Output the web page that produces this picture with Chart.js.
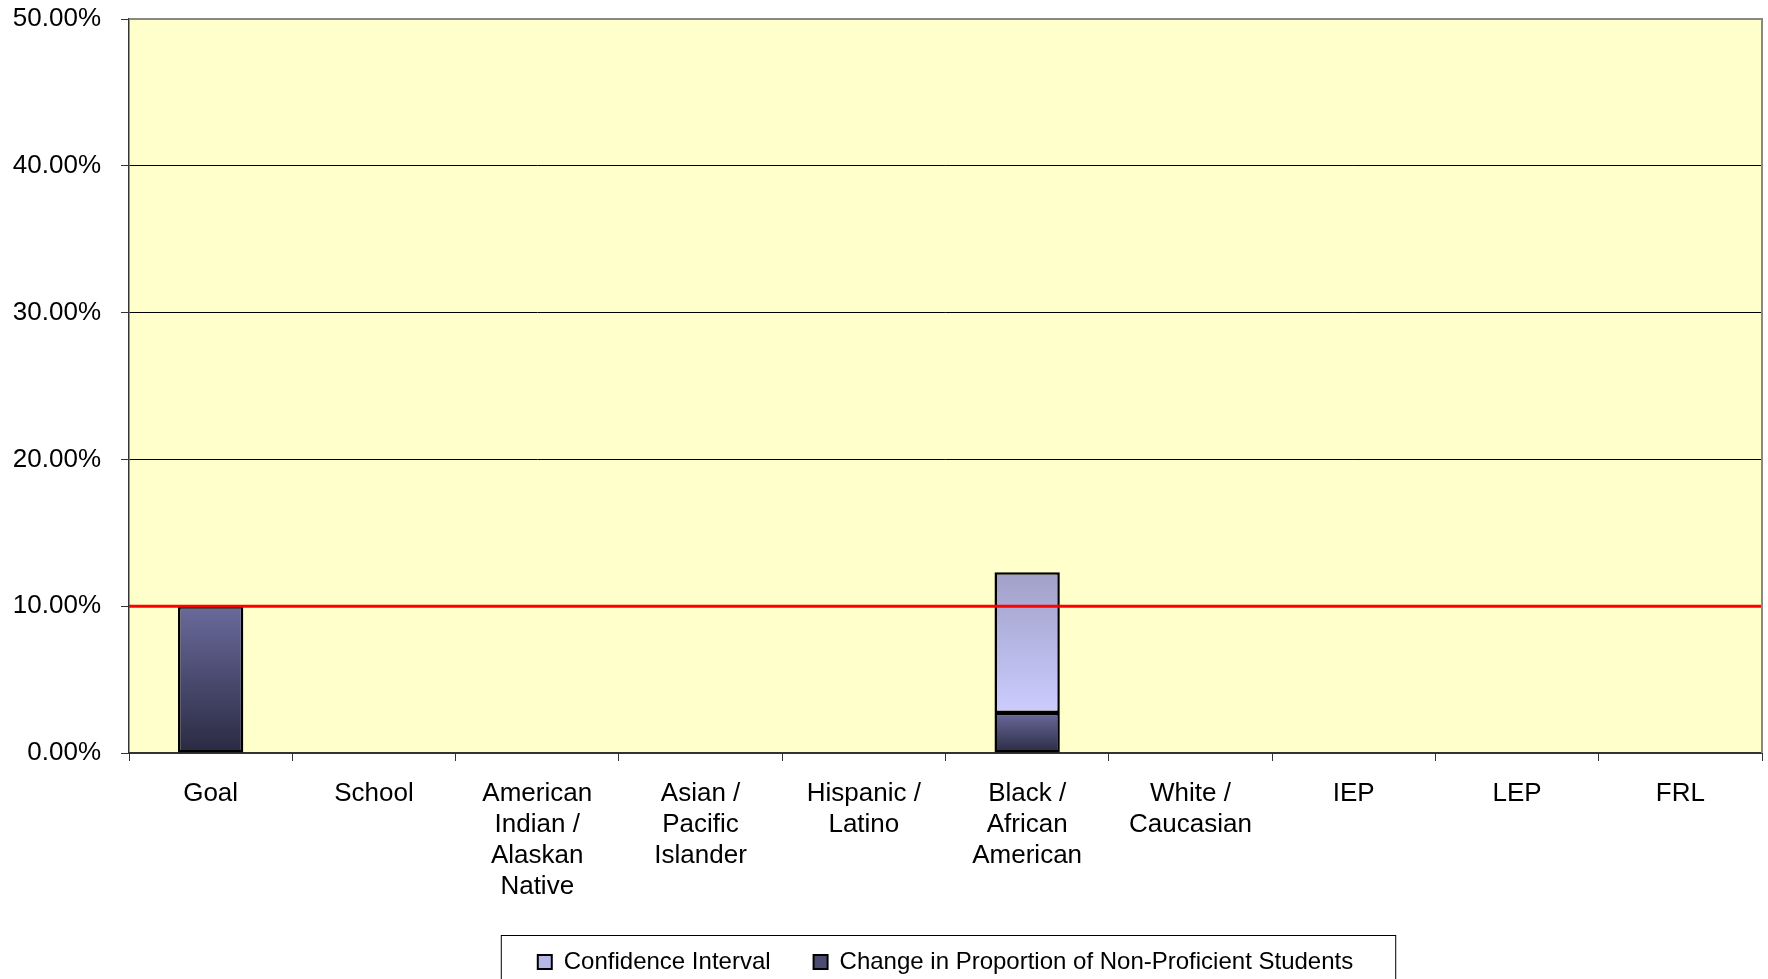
<!DOCTYPE html>
<html>
<head>
<meta charset="utf-8">
<script src="https://cdn.jsdelivr.net/npm/chart.js@4.4.1/dist/chart.umd.min.js"></script>
<style>
  body { margin: 0; background: #fff; }
  canvas { display: block; }
</style>
</head>
<body>
<canvas id="myChart" width="1768" height="979"></canvas>
<script>
const categories = [
  "Goal",
  "School",
  ["American", "Indian /", "Alaskan", "Native"],
  ["Asian /", "Pacific", "Islander"],
  ["Hispanic /", "Latino"],
  ["Black /", "African", "American"],
  ["White /", "Caucasian"],
  "IEP",
  "LEP",
  "FRL",
];
const changeValues = [10, null, null, null, null, 2.73, null, null, null, null];
const confidenceValues = [null, null, null, null, null, 9.59, null, null, null, null];
const goalLine = [10, 10];

const ctx = document.getElementById("myChart").getContext("2d");
const FONT = "'Liberation Sans', Arial, sans-serif";
const legendColors = ["#4c4c72", "#b8b8e8"];

/**
 * Vertical gradient spanning one bar segment
 */
function barGradient(c, values, bases, topColor, bottomColor, solid) {
  if (c.type !== "data") return solid;
  const y = c.chart.scales.y;
  const v = values[c.dataIndex];
  if (!y || v == null) return solid;
  const base = bases ? bases[c.dataIndex] || 0 : 0;
  const yTop = y.getPixelForValue(base + v);
  const yBot = y.getPixelForValue(base);
  if (!isFinite(yTop) || !isFinite(yBot) || yTop === yBot) return solid;
  const g = c.chart.ctx.createLinearGradient(0, yTop, 0, yBot);
  g.addColorStop(0, topColor);
  g.addColorStop(1, bottomColor);
  return g;
}

const plotBackground = {
  id: "plotBackground",
  beforeDraw(chart) {
    const { ctx, chartArea: a } = chart;
    ctx.save();
    ctx.fillStyle = "#ffffcc";
    ctx.fillRect(a.left, a.top, a.width, a.height);
    ctx.restore();
  },
  afterDraw(chart) {
    const { ctx, chartArea: a } = chart;
    ctx.save();
    ctx.strokeStyle = "#888";
    ctx.lineWidth = 2;
    ctx.beginPath();
    ctx.moveTo(a.left, a.top);
    ctx.lineTo(a.right, a.top);
    ctx.lineTo(a.right, a.bottom);
    ctx.stroke();
    // legend frame
    const lg = chart.legend;
    const boxes = lg.legendHitBoxes || [];
    if (boxes.length) {
      const left = Math.min(...boxes.map((b) => b.left)) - 37;
      const right = Math.max(...boxes.map((b) => b.left + b.width)) + 42;
      ctx.strokeStyle = "#000";
      ctx.lineWidth = 1;
      ctx.strokeRect(left + 0.5, lg.top - 12 + 0.5, right - left, chart.height);
    }
    ctx.restore();
  },
};

new Chart(ctx, {
  type: "bar",
  data: {
    labels: categories,
    datasets: [
      {
        label: "Change in Proportion of Non-Proficient Students",
        data: changeValues,
        backgroundColor: (c) => barGradient(c, changeValues, null, "#6a6a9c", "#2a2a42", legendColors[0]),
        borderColor: "#000",
        borderWidth: 2.5,
        borderSkipped: false,
        grouped: false,
        barPercentage: 0.4,
        categoryPercentage: 1,
      },
      {
        label: "Confidence Interval",
        data: confidenceValues,
        backgroundColor: (c) => barGradient(c, confidenceValues, changeValues, "#a0a0c8", "#ccccff", legendColors[1]),
        borderColor: "#000",
        borderWidth: 2.5,
        borderSkipped: false,
        grouped: false,
        barPercentage: 0.4,
        categoryPercentage: 1,
      },
      {
        type: "line",
        label: "Goal",
        data: goalLine.map((v, i) => ({ x: i, y: v })),
        xAxisID: "x2",
        borderColor: "#ff0000",
        borderWidth: 3,
        pointRadius: 0,
        fill: false,
        order: -1,
      },
    ],
  },
  options: {
    responsive: false,
    animation: false,
    devicePixelRatio: 1,
    layout: { padding: { top: 19, right: 6, left: 0, bottom: -5 } },
    plugins: {
      tooltip: { enabled: false },
      legend: {
        position: "bottom",
        fullSize: false,
        reverse: true,
        labels: {
          color: "#000",
          font: { family: FONT, size: 24 },
          boxWidth: 14,
          boxHeight: 14,
          padding: 3,
          generateLabels(chart) {
            const items = Chart.defaults.plugins.legend.labels.generateLabels(chart);
            return items
              .filter((it) => it.datasetIndex !== 2)
              .map((it) => ({
                ...it,
                text: it.datasetIndex === 1 ? it.text + "      " : it.text,
                fillStyle: legendColors[it.datasetIndex],
                strokeStyle: "#000",
                lineWidth: 2,
              }));
          },
        },
      },
    },
    scales: {
      x: {
        stacked: true,
        afterFit: (s) => { s.height = 194; },
        grid: { offset: true, drawOnChartArea: false, tickLength: 8, color: "#333" },
        border: { color: "#333", width: 2 },
        ticks: {
          color: "#000",
          font: { family: FONT, size: 26, lineHeight: 1.2 },
          padding: 17,
          maxRotation: 0,
          autoSkip: false,
        },
      },
      x2: { type: "linear", min: 0, max: 1, offset: false, display: false },
      y: {
        stacked: true,
        min: 0,
        max: 50,
        afterFit: (s) => {
          s.width = 129;
          s.paddingTop = 0;
          s.paddingBottom = 0;
        },
        grid: {
          color: (c) => (c.tick && c.tick.value === 50 ? "#888" : "#000"),
          lineWidth: 1,
          tickLength: 8,
          tickColor: "#333",
        },
        border: { color: "#333", width: 1.5 },
        ticks: {
          stepSize: 10,
          color: "#000",
          padding: 20,
          font: { family: FONT, size: 26 },
          callback: (v) => v.toFixed(2) + "%",
        },
      },
    },
  },
  plugins: [plotBackground],
});
</script>
</body>
</html>
